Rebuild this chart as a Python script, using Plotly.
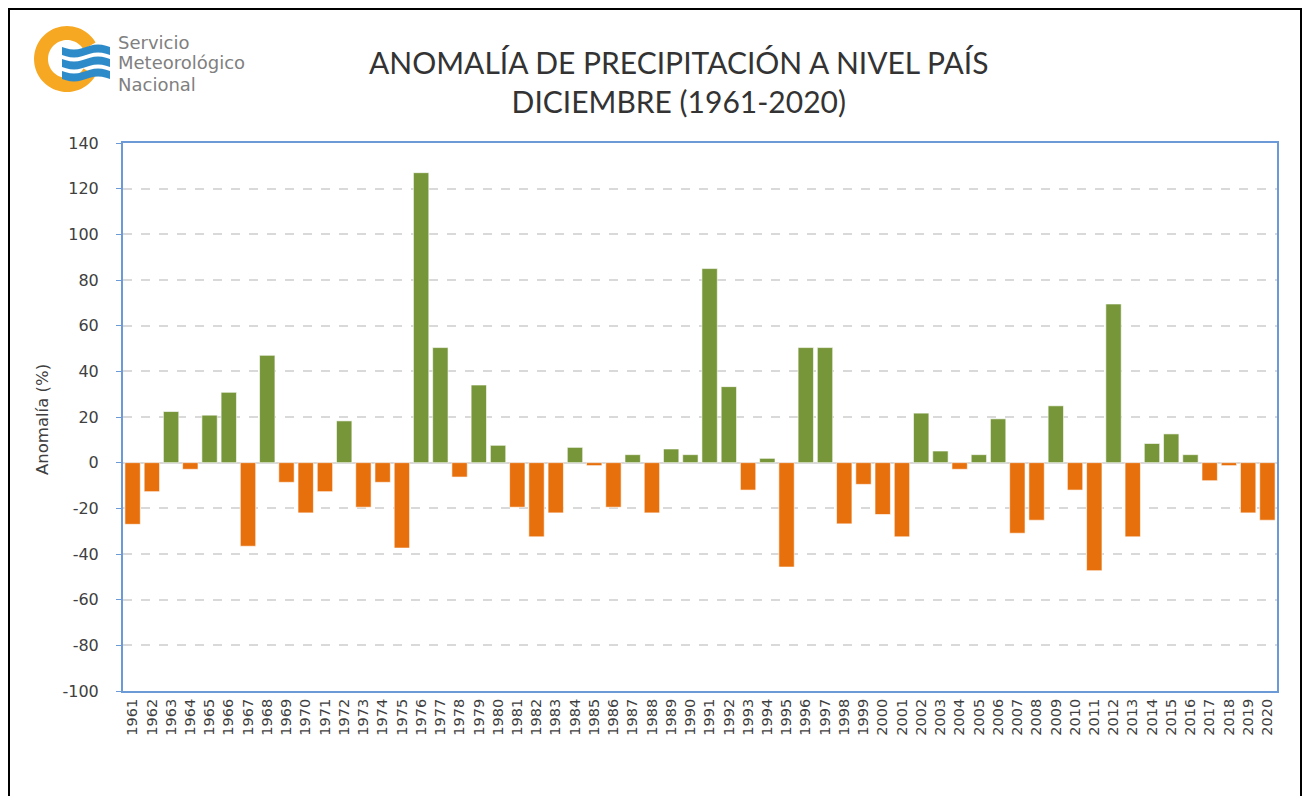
import math
import plotly.graph_objects as go

years = [str(y) for y in range(1961, 2021)]
anomalies = [
    -27, -12.7, 22.4, -2.9, 20.8, 30.8, -36.6, 47.0, -8.6, -22,
    -12.7, 18.3, -19.5, -8.6, -37.4, 127, 50.4, -6.3, 34, 7.6,
    -19.5, -32.5, -22, 6.7, -1.3, -19.5, 3.5, -22, 6, 3.5,
    85, 33.3, -12, 1.9, -45.7, 50.4, 50.4, -26.8, -9.5, -22.7,
    -32.5, 21.7, 5.1, -2.9, 3.5, 19.2, -30.9, -25.2, 24.9, -12,
    -47.3, 69.5, -32.5, 8.4, 12.6, 3.5, -7.9, -1.3, -22, -25.2,
]
y_ticks = list(range(-100, 141, 20))
y_tick_labels = [str(v) for v in y_ticks]

GREEN = "#77963A"
ORANGE = "#E8700C"
colors = [GREEN if v >= 0 else ORANGE for v in anomalies]
SANS = "DejaVu Sans, Arial, sans-serif"

# page offset (browser body margin) compensation
OX, OY = 8, 8
W, H = 1310 - OX, 796 - OY
PL, PT, PR, PB = 123 - OX, 143 - OY, 1277 - OX, 691 - OY  # plot area in figure px
PW, PH = PR - PL, PB - PT

def px(xp):
    return (xp - OX - PL) / PW

def py(yp):
    return 1 - (yp - OY - PT) / PH

fig = go.Figure()
fig.add_trace(go.Bar(
    x=years, y=anomalies,
    marker=dict(color=colors, line=dict(color="rgba(255,255,255,0.6)", width=1)),
    showlegend=False,
))

fig.update_layout(
    width=W, height=H, autosize=False,
    margin=dict(l=PL, r=W - PR, t=PT, b=H - PB),
    paper_bgcolor="white", plot_bgcolor="white",
    bargap=0.2,
    font=dict(family=SANS, color="#404040"),
)

fig.update_xaxes(
    type="category", tickangle=-90,
    tickfont=dict(size=14.5, color="#404040", family=SANS),
    showline=True, mirror=True, linecolor="#6C9AD6", linewidth=2,
    showgrid=False, ticks="", ticklen=0,
)
fig.update_yaxes(
    range=[-100, 140], tickvals=y_ticks, ticktext=y_tick_labels,
    tickfont=dict(size=16, color="#404040", family=SANS),
    showline=True, mirror=True, linecolor="#6C9AD6", linewidth=2,
    showgrid=True, gridcolor="#D9D9D9", griddash="dash", gridwidth=1.5,
    zeroline=True, zerolinecolor="#D9D9D9", zerolinewidth=2,
    ticks="outside", ticklen=5, tickcolor="#6C9AD6",
    ticklabelstandoff=14,
)

# Y axis title
fig.add_annotation(
    text="Anomalía (%)", xref="paper", yref="paper", x=px(42), y=py(420),
    xanchor="center", yanchor="middle", showarrow=False, textangle=-90,
    font=dict(size=16.5, color="#404040", family=SANS),
)

# Title
fig.add_annotation(
    text="ANOMALÍA DE PRECIPITACIÓN A NIVEL PAÍS<br>DICIEMBRE (1961-2020)",
    xref="paper", yref="paper", x=px(679), y=py(82),
    xanchor="center", yanchor="middle", showarrow=False,
    font=dict(family="Lato, Open Sans, sans-serif", size=30, color="#333333"),
    align="center",
)

# Frame around the whole picture
fig.add_shape(type="rect", xref="paper", yref="paper",
              x0=px(9), x1=px(1301), y0=py(810), y1=py(9),
              line=dict(color="black", width=2), layer="below")

# Logo: orange ring (C) and blue waves
cx, cy, ro, ri = 67, 59, 33, 19
pts_o = [(cx + ro * math.cos(math.radians(a)), cy - ro * math.sin(math.radians(a))) for a in range(30, 331, 5)]
pts_i = [(cx + ri * math.cos(math.radians(a)), cy - ri * math.sin(math.radians(a))) for a in range(330, 29, -5)]
path = "M " + " L ".join(f"{px(x):.5f},{py(y):.5f}" for x, y in pts_o + pts_i) + " Z"
fig.add_shape(type="path", xref="paper", yref="paper", path=path,
              fillcolor="#F7A823", line=dict(width=0))

def wave(y0, h):
    top = []
    bot = []
    for i in range(0, 49, 4):
        x = 62 + i
        off = 2.5 * math.sin((i / 48) * 2 * math.pi)
        top.append((x, y0 + off))
        bot.append((x, y0 + h + off))
    pts = top + bot[::-1]
    return "M " + " L ".join(f"{px(x):.5f},{py(y):.5f}" for x, y in pts) + " Z"

for y0, h in [(47, 8), (59, 8), (71, 8)]:
    fig.add_shape(type="path", xref="paper", yref="paper", path=wave(y0, h),
                  fillcolor="#2E8BC9", line=dict(width=0))

for i, t in enumerate(["Servicio", "Meteorológico", "Nacional"]):
    fig.add_annotation(text=t, xref="paper", yref="paper",
                       x=px(116), y=py(42 + i * 21), xanchor="left", yanchor="middle",
                       showarrow=False,
                       font=dict(family=SANS, size=18, color="#808080"))

fig.write_html("out.html")
